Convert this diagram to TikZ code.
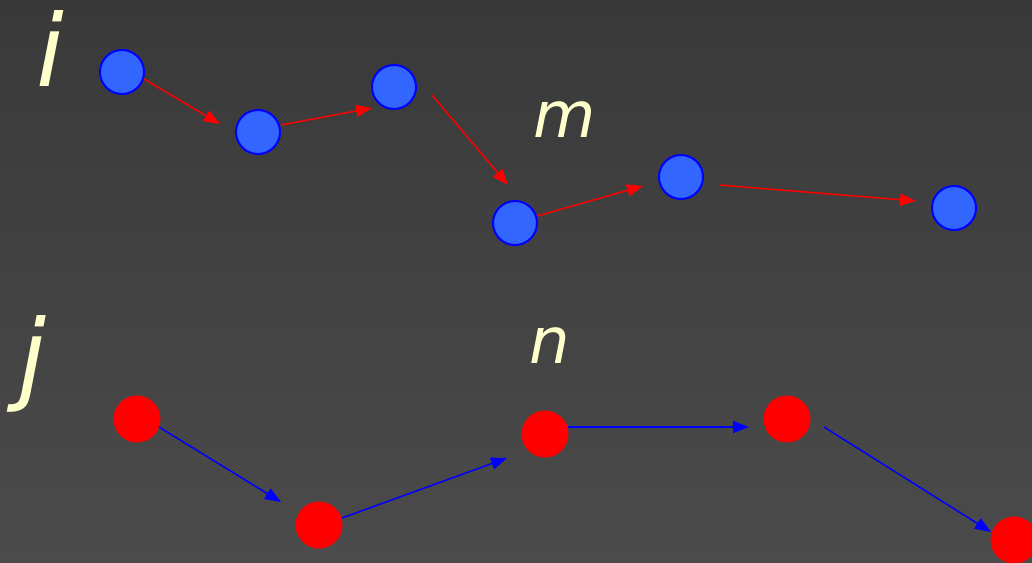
\documentclass[tikz,border=0pt]{standalone}
\usepackage{fontspec}
\usepackage{tikz}
\usetikzlibrary{arrows.meta,calc}
\newfontfamily\labelfont{DejaVu Sans}
\definecolor{bgtop}{HTML}{393939}
\definecolor{bgbottom}{HTML}{4B4B4B}
\definecolor{bluedot}{HTML}{3366FF}
\definecolor{blueline}{HTML}{0000FF}
\definecolor{reddot}{HTML}{FF0000}
\definecolor{labeltext}{HTML}{FFFFCC}

\begin{document}
\begin{tikzpicture}[x=1pt,y=-1pt,
    bnode/.style={circle,draw=blueline,line width=2pt,fill=bluedot,minimum size=44pt,inner sep=0pt},
    rnode/.style={circle,fill=reddot,minimum size=47pt,inner sep=0pt},
    redarr/.style={-{Triangle[length=16pt,width=12pt]},line width=1.5pt,reddot},
    bluearr/.style={-{Triangle[length=16pt,width=12pt]},line width=1.5pt,blueline},
    biglabel/.style={text=labeltext,anchor=base,inner sep=0pt,font=\labelfont\itshape\fontsize{100}{100}\selectfont},
    smalllabel/.style={text=labeltext,anchor=base,inner sep=0pt,font=\labelfont\itshape\fontsize{64}{64}\selectfont}]
  \shade[top color=bgtop,bottom color=bgbottom] (0,0) rectangle (1032,562);
  \useasboundingbox (0,0) rectangle (1032,562);
  \clip (0,0) rectangle (1032,562);

  % labels
  \node[biglabel] (li) at (50,86) {i};
  \node[biglabel] (lj) at (32,391) {j};
  \node[smalllabel] (lm) at (565,137) {m};
  \node[smalllabel] (ln) at (550,363) {n};

  % upper row
  \node[bnode] (b1) at (122,72) {};
  \node[bnode] (b2) at (258,132) {};
  \node[bnode] (b3) at (394,87) {};
  \node[bnode] (b4) at (515,223) {};
  \node[bnode] (b5) at (681,177) {};
  \node[bnode] (b6) at (954,208) {};

  % lower row
  \node[rnode] (r1) at (137,419) {};
  \node[rnode] (r2) at (319,525) {};
  \node[rnode] (r3) at (545,434) {};
  \node[rnode] (r4) at (787,419) {};
  \node[rnode] (r5) at (1014,540) {};

  \draw[redarr] ($(b1)+(22,7)$) -- ($(b2)+(-38,-8)$);
  \draw[redarr] ($(b2)+(23,-7)$) -- ($(b3)+(-22,21)$);
  \draw[redarr] ($(b3)+(38,8)$) -- ($(b4)+(-7,-38)$);
  \draw[redarr] ($(b4)+(22,-7)$) -- ($(b5)+(-38,9)$);
  \draw[redarr] ($(b5)+(38,8)$) -- ($(b6)+(-38,-7)$);

  \draw[bluearr] ($(r1)+(22,8)$) -- ($(r2)+(-38,-23)$);
  \draw[bluearr] ($(r2)+(23,-7)$) -- ($(r3)+(-38,24)$);
  \draw[bluearr] ($(r3)+(23,-7)$) -- ($(r4)+(-38,8)$);
  \draw[bluearr] ($(r4)+(37,8)$) -- ($(r5)+(-23,-8)$);
\end{tikzpicture}
\end{document}
